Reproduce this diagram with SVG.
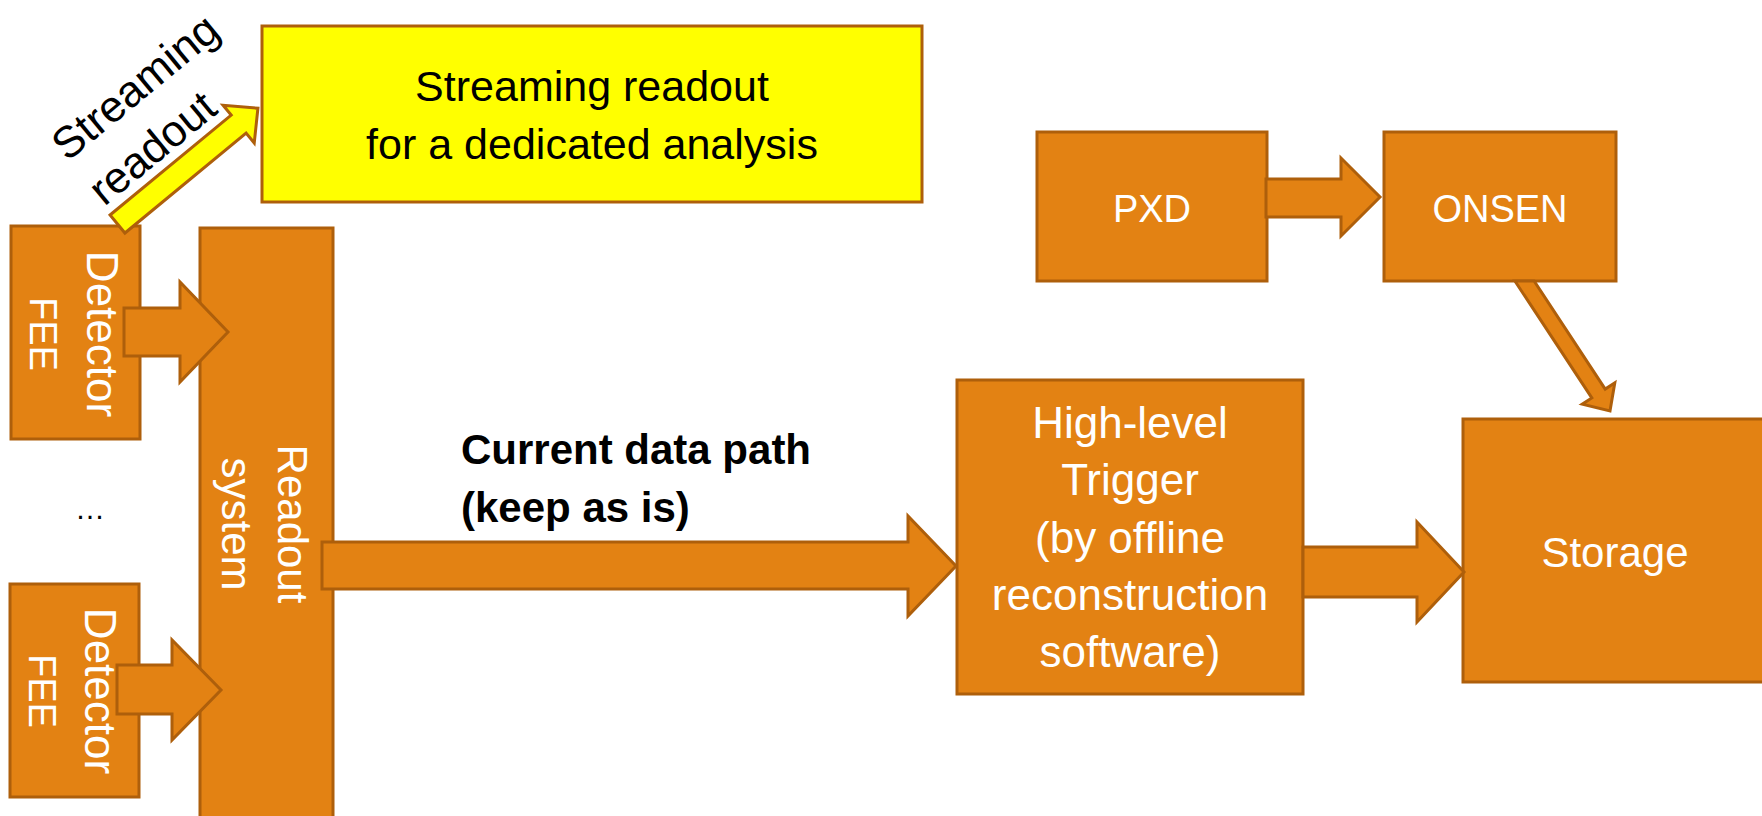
<svg xmlns="http://www.w3.org/2000/svg" width="1762" height="816" viewBox="0 0 1762 816">
<style>
.box{fill:#E38213;stroke:#AE5F0B;stroke-width:3}
.ybox{fill:#FFFF00;stroke:#AE5F0B;stroke-width:3}
.arr{fill:#E38213;stroke:#AE5F0B;stroke-width:3;stroke-linejoin:miter}
.yarr{fill:#FFFF00;stroke:#AE5F0B;stroke-width:3}
.wt{font-family:"Liberation Sans",Arial,sans-serif;fill:#FFFFFF;text-anchor:middle}
.bt{font-family:"Liberation Sans",Arial,sans-serif;fill:#000000}
</style>
<rect width="1762" height="816" fill="#FFFFFF"/>
<g id="streaming-box">
<rect class="ybox" x="262" y="26" width="660" height="176"/>
<text class="bt" font-size="43" text-anchor="middle"><tspan x="592" y="101">Streaming readout</tspan><tspan x="592" y="159">for a dedicated analysis</tspan></text>
</g>
<g id="fee1">
<rect class="box" x="11" y="226" width="129" height="213"/>
<text class="wt" transform="translate(75,334) rotate(90)"><tspan x="0" y="-12" font-size="44">Detector</tspan><tspan x="0" y="45" font-size="38">FEE</tspan></text>
</g>
<g id="fee2">
<rect class="box" x="10" y="584" width="129" height="213"/>
<text class="wt" transform="translate(74,691) rotate(90)"><tspan x="0" y="-11" font-size="44">Detector</tspan><tspan x="0" y="45" font-size="38">FEE</tspan></text>
</g>
<g id="dots">
<text class="bt" x="90" y="519" font-size="30" text-anchor="middle">…</text>
</g>
<g id="readout">
<rect class="box" x="200" y="228" width="133" height="620"/>
<text class="wt" font-size="42" transform="translate(263,524) rotate(90)"><tspan x="0" y="-15">Readout</tspan><tspan x="0" y="41">system</tspan></text>
</g>
<g id="pxd">
<rect class="box" x="1037" y="132" width="230" height="149"/>
<text class="wt" x="1152" y="222" font-size="38">PXD</text>
</g>
<g id="onsen">
<rect class="box" x="1384" y="132" width="232" height="149"/>
<text class="wt" x="1500" y="222" font-size="38">ONSEN</text>
</g>
<g id="hlt">
<rect class="box" x="957" y="380" width="346" height="314"/>
<text class="wt" font-size="44"><tspan x="1130" y="438">High-level</tspan><tspan x="1130" y="495">Trigger</tspan><tspan x="1130" y="553">(by offline</tspan><tspan x="1130" y="610">reconstruction</tspan><tspan x="1130" y="667">software)</tspan></text>
</g>
<g id="storage">
<rect class="box" x="1463" y="419" width="320" height="263"/>
<text class="wt" x="1615" y="567" font-size="42">Storage</text>
</g>
<g id="connectors">
<polygon class="arr" points="124,308 180,308 180,282 228,332 180,382 180,356 124,356"/>
<polygon class="arr" points="117,665 172,665 172,640 221,690 172,740 172,714 117,714"/>
<polygon class="arr" points="322,542 908,542 908,516 956,566 908,616 908,589 322,589"/>
<polygon class="arr" points="1303,547 1417,547 1417,522 1464,572 1417,622 1417,597 1303,597"/>
<polygon class="arr" points="1266,179 1341,179 1341,158 1380,197 1341,236 1341,217 1266,217"/>
<polygon class="arr" points="1514.9,281 1591.8,397.9 1582.2,404.2 1610,411 1614.8,382.8 1605.2,389.1 1534.1,281"/>
<polygon class="yarr" transform="translate(117.5,224) rotate(-39.5)" points="0,-11.7 157,-11.7 157,-24.5 182,0 157,24.5 157,11.7 0,11.7"/>
<text class="bt" font-size="44" transform="translate(148.5,116) rotate(-39.5)"><tspan x="-92" y="-16">Streaming</tspan><tspan x="-92" y="42">readout</tspan></text>
<text class="bt" font-size="42" font-weight="bold"><tspan x="461" y="464">Current data path</tspan><tspan x="461" y="522">(keep as is)</tspan></text>
</g>
</svg>
